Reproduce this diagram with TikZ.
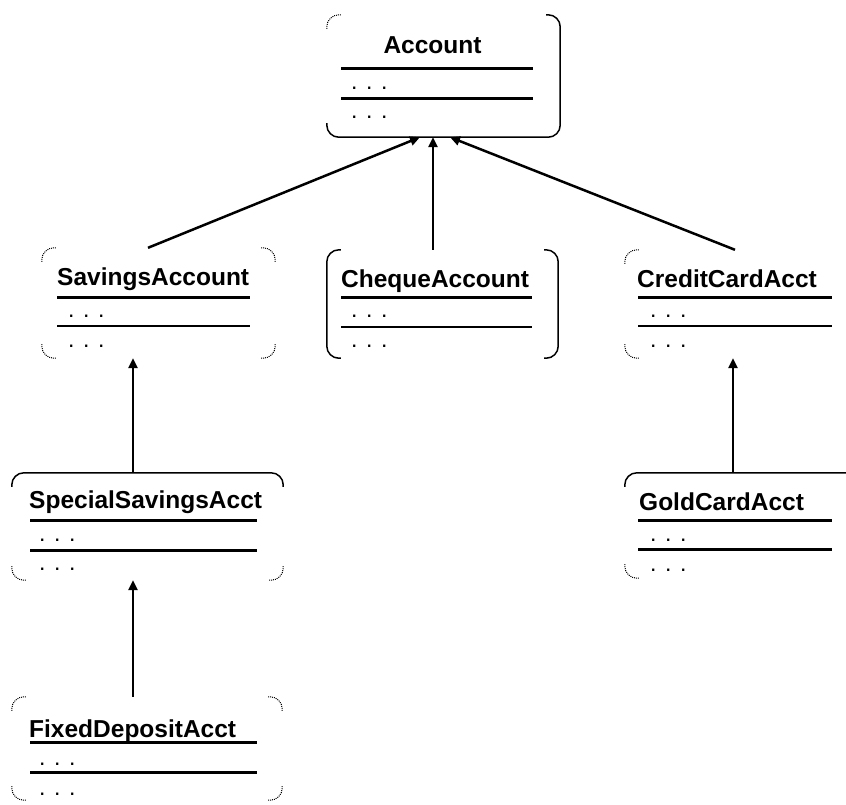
\documentclass[tikz,border=0pt]{standalone}
\usepackage{fontspec}
\setmainfont{Liberation Sans}
\usetikzlibrary{arrows.meta}

\tikzset{
  classbox/.style={draw=none,rectangle,inner sep=0pt},
  corner/.style={line width=1pt,densely dotted,rounded corners=12pt},
  side/.style={line width=1.5pt,rounded corners=12pt},
  classname/.style={anchor=base west,inner sep=0pt,font=\fontsize{24.5}{27}\selectfont\bfseries},
  member/.style={anchor=base west,inner sep=0pt,font=\fontsize{23}{26}\selectfont},
  thicksep/.style={line width=3pt},
  thinsep/.style={line width=2pt},
  inherit/.style={line width=2.5pt,-{Triangle[length=10pt,width=9pt]}},
}

\begin{document}
\begin{tikzpicture}[x=1pt,y=-1pt]
\useasboundingbox (0,0) rectangle (846,804);

% class boxes
\node[classbox,minimum width=233pt,minimum height=122pt] (acct) at (443.5,76) {};
\node[classbox,minimum width=233pt,minimum height=110pt] (sav) at (158.5,303) {};
\node[classbox,minimum width=231pt,minimum height=108pt] (chq) at (442.5,304) {};
\node[classbox,minimum width=227pt,minimum height=108pt] (cc) at (738.5,304) {};
\node[classbox,minimum width=271pt,minimum height=107pt] (ssa) at (147.5,526.5) {};
\node[classbox,minimum width=227pt,minimum height=105pt] (gold) at (738.5,525.5) {};
\node[classbox,minimum width=270pt,minimum height=103pt] (fix) at (147,748.5) {};

% outlines
\draw[corner] ([yshift=-14pt]acct.north west) |- ([xshift=14pt]acct.north west);
\draw[side] ([xshift=-14pt]acct.north east) -| (acct.south east) -| ([yshift=14pt]acct.south west);
\draw[side] ([xshift=14pt]chq.north west) -| (chq.south west) -- ([xshift=14pt]chq.south west);
\draw[side] ([xshift=-14pt]chq.north east) -| (chq.south east) -- ([xshift=-14pt]chq.south east);
\draw[corner] ([yshift=-14pt]cc.north west) |- ([xshift=14pt]cc.north west);
\draw[corner] ([yshift=14pt]cc.south west) |- ([xshift=14pt]cc.south west);
\draw[side] ([yshift=-14pt]ssa.north west) |- (ssa.north east) -- ([yshift=-14pt]ssa.north east);
\draw[corner] ([yshift=14pt]ssa.south west) |- ([xshift=14pt]ssa.south west);
\draw[corner] ([yshift=14pt]ssa.south east) |- ([xshift=-14pt]ssa.south east);
\draw[side] ([yshift=-14pt]gold.north west) |- (gold.north east);
\draw[corner] ([yshift=14pt]gold.south west) |- ([xshift=14pt]gold.south west);
\foreach \b in {sav,fix}{
  \draw[corner] ([yshift=-14pt]\b.north west) |- ([xshift=14pt]\b.north west);
  \draw[corner] ([yshift=-14pt]\b.north east) |- ([xshift=-14pt]\b.north east);
  \draw[corner] ([yshift=14pt]\b.south west) |- ([xshift=14pt]\b.south west);
  \draw[corner] ([yshift=14pt]\b.south east) |- ([xshift=-14pt]\b.south east);
}

% Account
\node[classname,anchor=base] (acct-name) at (432.5,53) {Account};
\draw[thicksep] (341,68) -- (533,68);
\node[member] (acct-attr) at (351,89.5) {. . .};
\draw[thicksep] (341,98) -- (533,98);
\node[member] (acct-ops) at (351,118.5) {. . .};

% SavingsAccount
\node[classname] (sav-name) at (57,285) {SavingsAccount};
\draw[thicksep] (57,297) -- (250,297);
\node[member] (sav-attr) at (68,317.5) {. . .};
\draw[thinsep] (57,326) -- (250,326);
\node[member] (sav-ops) at (68,347.5) {. . .};

% ChequeAccount
\node[classname] (chq-name) at (341,287) {ChequeAccount};
\draw[thicksep] (341,297) -- (532,297);
\node[member] (chq-attr) at (351,317.5) {. . .};
\draw[thinsep] (341,327) -- (532,327);
\node[member] (chq-ops) at (351,347.5) {. . .};

% CreditCardAcct
\node[classname] (cc-name) at (637,287) {CreditCardAcct};
\draw[thicksep] (638,297) -- (832,297);
\node[member] (cc-attr) at (650,317.5) {. . .};
\draw[thinsep] (638,326) -- (832,326);
\node[member] (cc-ops) at (650,347.5) {. . .};

% SpecialSavingsAcct
\node[classname] (ssa-name) at (29,508) {SpecialSavingsAcct};
\draw[thicksep] (30,520) -- (257,520);
\node[member] (ssa-attr) at (39,541.5) {. . .};
\draw[thicksep] (30,550) -- (257,550);
\node[member] (ssa-ops) at (39,570) {. . .};

% GoldCardAcct
\node[classname] (gold-name) at (639,510) {GoldCardAcct};
\draw[thicksep] (638,520) -- (832,520);
\node[member] (gold-attr) at (650,541.5) {. . .};
\draw[thicksep] (638,549.5) -- (832,549.5);
\node[member] (gold-ops) at (650,571) {. . .};

% FixedDepositAcct
\node[classname] (fix-name) at (29,737) {FixedDepositAcct};
\draw[thicksep] (30,742) -- (257,742);
\node[member] (fix-attr) at (39,765) {. . .};
\draw[thicksep] (30,772) -- (257,772);
\node[member] (fix-ops) at (39,795) {. . .};

% inheritance
\draw[inherit] ([xshift=-10.5pt]sav.north) -- ([xshift=-23.5pt]acct.south);
\draw[inherit] ([xshift=-9.5pt]chq.north) -- ([xshift=-10.5pt]acct.south);
\draw[inherit] ([xshift=-3.5pt]cc.north) -- ([xshift=6.5pt]acct.south);
\draw[inherit] ([xshift=-14.5pt]ssa.north) -- ([xshift=-25.5pt]sav.south);
\draw[inherit] ([xshift=-14pt]fix.north) -- ([xshift=-14.5pt]ssa.south);
\draw[inherit] ([xshift=-5.5pt]gold.north) -- ([xshift=-5.5pt]cc.south);

\end{tikzpicture}
\end{document}
